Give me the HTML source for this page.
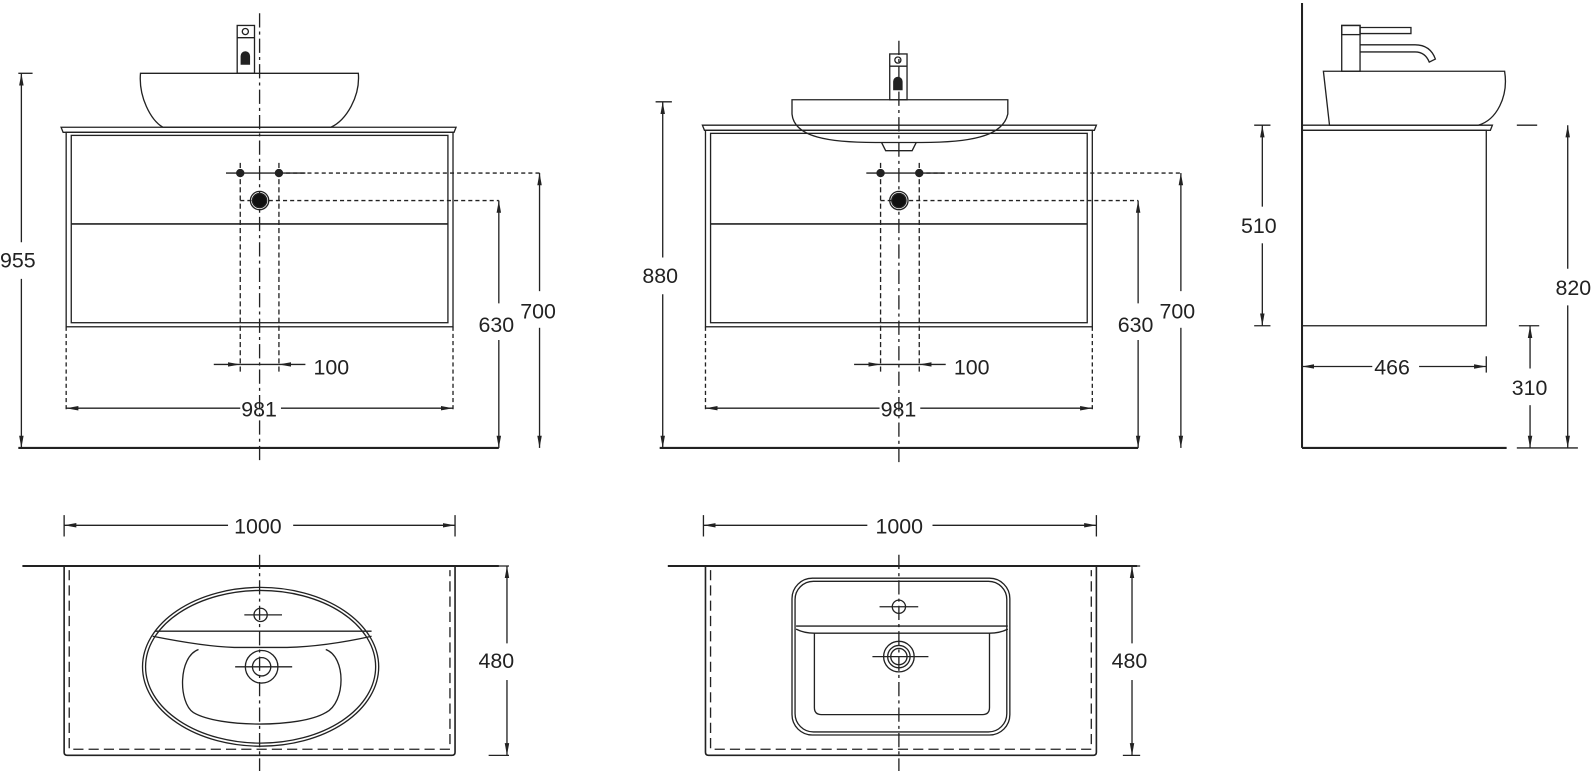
<!DOCTYPE html>
<html><head><meta charset="utf-8"><style>html,body{margin:0;padding:0;background:#fff}svg{display:block}text{font-family:"Liberation Sans",sans-serif;font-size:21px;fill:#222}</style></head>
<body>
<svg width="1594" height="771" viewBox="0 0 1594 771" xmlns="http://www.w3.org/2000/svg">
<defs>
<marker id="a" viewBox="0 0 12 6" refX="12" refY="3" markerWidth="12" markerHeight="6" orient="auto-start-reverse" markerUnits="userSpaceOnUse"><path d="M0,0.8L12,3L0,5.2z" fill="#222"/></marker>
</defs>
<g transform="scale(1.018)" fill="none" stroke="#222" stroke-width="1.3">
<!-- VIEW 1 -->
<line x1="255" y1="13" x2="255" y2="455" stroke-dasharray="14,4,3,4"/>
<rect x="233" y="25" width="17" height="47"/><circle cx="241" cy="31" r="3"/><line x1="233" y1="37" x2="250" y2="37"/>
<path d="M237,55 a4,4 0 0 1 8,0 v8 h-8z" fill="#222"/>
<path d="M138,72 H352 C354,95 340,118 325,125 H160 C148,118 136,95 138,72z"/>
<path d="M60,125 H448 L446,130 H62z"/>
<rect x="65" y="130" width="380" height="191"/>
<rect x="70" y="133" width="370" height="184"/>
<line x1="70" y1="220" x2="440" y2="220" stroke-width="1.6"/>
<line x1="222" y1="170" x2="300" y2="170"/>
<circle cx="236" cy="170" r="3.5" fill="#222"/><circle cx="274" cy="170" r="3.5" fill="#222"/>
<line x1="274" y1="170" x2="530" y2="170" stroke-dasharray="4,3"/>
<line x1="236" y1="197" x2="490" y2="197" stroke-dasharray="4,3"/>
<circle cx="255" cy="197" r="9"/><circle cx="255" cy="197" r="7" fill="#111"/>
<line x1="236" y1="160" x2="236" y2="368" stroke-dasharray="5,3"/>
<line x1="274" y1="160" x2="274" y2="368" stroke-dasharray="5,3"/>
<line x1="65" y1="321" x2="65" y2="405" stroke-dasharray="4,3"/>
<line x1="445" y1="321" x2="445" y2="405" stroke-dasharray="4,3"/>
<line x1="210" y1="358" x2="236" y2="358" marker-end="url(#a)"/>
<line x1="300" y1="358" x2="274" y2="358" marker-end="url(#a)"/>
<line x1="236" y1="358" x2="274" y2="358"/>
<line x1="65" y1="401" x2="236" y2="401" marker-start="url(#a)"/><line x1="276" y1="401" x2="445" y2="401" marker-end="url(#a)"/>
<line x1="18" y1="440" x2="490" y2="440" stroke-width="2"/>
<line x1="18" y1="72" x2="32" y2="72"/>
<line x1="21" y1="72" x2="21" y2="238" marker-start="url(#a)"/><line x1="21" y1="274" x2="21" y2="440" marker-end="url(#a)"/>
<line x1="490" y1="197" x2="490" y2="298" marker-start="url(#a)"/><line x1="490" y1="334" x2="490" y2="440" marker-end="url(#a)"/>
<line x1="530" y1="170" x2="530" y2="286" marker-start="url(#a)"/><line x1="530" y1="322" x2="530" y2="440" marker-end="url(#a)"/>
<!-- VIEW 2 -->
<line x1="883" y1="40" x2="883" y2="455" stroke-dasharray="14,4,3,4"/>
<rect x="874" y="53" width="17" height="45"/><circle cx="882" cy="59" r="3"/><line x1="874" y1="65" x2="891" y2="65"/>
<path d="M878,80 a4,4 0 0 1 8,0 v8 h-8z" fill="#222"/>
<path d="M778,98 H990 V112 C985,135 950,140 905,140 H860 C815,140 780,135 778,112z"/>
<path d="M690,123 H1077 L1075,128 H692z"/>
<path d="M866,140 L870,148 H896 L900,140"/>
<rect x="693" y="128" width="380" height="193"/>
<rect x="698" y="131" width="370" height="186"/>
<line x1="698" y1="220" x2="1068" y2="220" stroke-width="1.6"/>
<line x1="851" y1="170" x2="928" y2="170"/>
<circle cx="865" cy="170" r="3.5" fill="#222"/><circle cx="903" cy="170" r="3.5" fill="#222"/>
<line x1="903" y1="170" x2="1160" y2="170" stroke-dasharray="4,3"/>
<line x1="865" y1="197" x2="1118" y2="197" stroke-dasharray="4,3"/>
<circle cx="883" cy="197" r="9"/><circle cx="883" cy="197" r="7" fill="#111"/>
<line x1="865" y1="160" x2="865" y2="368" stroke-dasharray="5,3"/>
<line x1="903" y1="160" x2="903" y2="368" stroke-dasharray="5,3"/>
<line x1="693" y1="321" x2="693" y2="405" stroke-dasharray="4,3"/>
<line x1="1073" y1="321" x2="1073" y2="405" stroke-dasharray="4,3"/>
<line x1="839" y1="358" x2="865" y2="358" marker-end="url(#a)"/>
<line x1="929" y1="358" x2="903" y2="358" marker-end="url(#a)"/>
<line x1="865" y1="358" x2="903" y2="358"/>
<line x1="693" y1="401" x2="864" y2="401" marker-start="url(#a)"/><line x1="904" y1="401" x2="1073" y2="401" marker-end="url(#a)"/>
<line x1="648" y1="440" x2="1118" y2="440" stroke-width="2"/>
<line x1="644" y1="100" x2="660" y2="100"/>
<line x1="651" y1="100" x2="651" y2="253" marker-start="url(#a)"/><line x1="651" y1="289" x2="651" y2="440" marker-end="url(#a)"/>
<line x1="1118" y1="197" x2="1118" y2="298" marker-start="url(#a)"/><line x1="1118" y1="334" x2="1118" y2="440" marker-end="url(#a)"/>
<line x1="1160" y1="170" x2="1160" y2="286" marker-start="url(#a)"/><line x1="1160" y1="322" x2="1160" y2="440" marker-end="url(#a)"/>
<!-- VIEW 3 -->
<line x1="1279" y1="3" x2="1279" y2="440" stroke-width="2"/>
<line x1="1279" y1="440" x2="1480" y2="440" stroke-width="2"/>
<path d="M1300,70 H1478 C1482,95 1470,118 1452,123 H1306 Z"/>
<path d="M1279,123 H1466 L1464,128 H1279"/>
<rect x="1279" y="128" width="181" height="192"/>
<rect x="1318" y="25" width="18" height="45"/><rect x="1318" y="25" width="18" height="9"/>
<path d="M1336,27 H1386 V33 H1336"/>
<path d="M1336,44 H1390 Q1405,44 1410,58 L1404,61 Q1400,51 1390,51 H1336"/>
<line x1="1232" y1="123" x2="1248" y2="123"/><line x1="1232" y1="320" x2="1248" y2="320"/>
<line x1="1240" y1="123" x2="1240" y2="203" marker-start="url(#a)"/><line x1="1240" y1="239" x2="1240" y2="320" marker-end="url(#a)"/>
<line x1="1460" y1="350" x2="1460" y2="366"/>
<line x1="1279" y1="360" x2="1348" y2="360" marker-start="url(#a)"/><line x1="1394" y1="360" x2="1460" y2="360" marker-end="url(#a)"/>
<line x1="1492" y1="320" x2="1512" y2="320"/>
<line x1="1503" y1="320" x2="1503" y2="362" marker-start="url(#a)"/><line x1="1503" y1="398" x2="1503" y2="440" marker-end="url(#a)"/>
<line x1="1490" y1="123" x2="1510" y2="123"/><line x1="1490" y1="440" x2="1550" y2="440"/>
<line x1="1540" y1="123" x2="1540" y2="264" marker-start="url(#a)"/><line x1="1540" y1="300" x2="1540" y2="440" marker-end="url(#a)"/>
<!-- PLAN 1 -->
<line x1="63" y1="506" x2="63" y2="527"/><line x1="447" y1="506" x2="447" y2="527"/>
<line x1="63" y1="516" x2="224" y2="516" marker-start="url(#a)"/><line x1="288" y1="516" x2="447" y2="516" marker-end="url(#a)"/>
<line x1="22" y1="556" x2="490" y2="556" stroke-width="2"/>
<path d="M63,556 V739 Q63,742 66,742 H444 Q447,742 447,739 V556" stroke-width="1.6"/>
<path d="M68,560 V736 H442 V560" stroke-dasharray="10,5"/>
<line x1="255" y1="545" x2="255" y2="767" stroke-dasharray="14,4,3,4"/>
<ellipse cx="256" cy="655" rx="116" ry="78"/><ellipse cx="256" cy="655" rx="113" ry="75"/>
<path d="M152,620 H365"/>
<path d="M150,625 Q200,635 230,636 H282 Q320,635 365,625"/>
<path d="M195,638 C175,645 175,690 190,700 C215,715 295,715 320,700 C340,690 340,645 320,638"/>
<circle cx="256" cy="604" r="6.5"/><line x1="240" y1="604" x2="277" y2="604"/>
<circle cx="257" cy="655" r="16"/><circle cx="257" cy="655" r="9"/><line x1="231" y1="655" x2="287" y2="655"/>
<line x1="480" y1="556" x2="500" y2="556"/><line x1="480" y1="742" x2="500" y2="742"/>
<line x1="498" y1="556" x2="498" y2="632" marker-start="url(#a)"/><line x1="498" y1="668" x2="498" y2="742" marker-end="url(#a)"/>
<!-- PLAN 2 -->
<line x1="691" y1="506" x2="691" y2="527"/><line x1="1077" y1="506" x2="1077" y2="527"/>
<line x1="691" y1="516" x2="852" y2="516" marker-start="url(#a)"/><line x1="916" y1="516" x2="1077" y2="516" marker-end="url(#a)"/>
<line x1="656" y1="556" x2="1117" y2="556" stroke-width="2"/>
<path d="M693,556 V739 Q693,742 696,742 H1074 Q1077,742 1077,739 V556" stroke-width="1.6"/>
<path d="M698,560 V736 H1072 V560" stroke-dasharray="10,5"/>
<line x1="883" y1="545" x2="883" y2="767" stroke-dasharray="14,4,3,4"/>
<rect x="778" y="568" width="214" height="154" rx="20"/><rect x="781" y="571" width="208" height="148" rx="18"/>
<path d="M782,615 H990"/><path d="M782,618 Q790,622 800,622 H972 Q982,622 990,618"/>
<path d="M800,622 V695 Q800,702 807,702 H965 Q972,702 972,695 V622"/>
<circle cx="883" cy="596" r="6.5"/><line x1="864" y1="596" x2="902" y2="596"/>
<circle cx="883" cy="645" r="15"/><circle cx="883" cy="645" r="11"/><circle cx="883" cy="645" r="8"/><line x1="857" y1="645" x2="912" y2="645"/>
<line x1="1103" y1="556" x2="1120" y2="556"/><line x1="1103" y1="742" x2="1120" y2="742"/>
<line x1="1112" y1="556" x2="1112" y2="632" marker-start="url(#a)"/><line x1="1112" y1="668" x2="1112" y2="742" marker-end="url(#a)"/>
</g>
<g transform="scale(1.018)">
<text x="0" y="263">955</text>
<text x="470" y="326">630</text><text x="511" y="313">700</text>
<text x="308" y="368">100</text><text x="237" y="409">981</text>
<text x="631" y="278">880</text>
<text x="1098" y="326">630</text><text x="1139" y="313">700</text>
<text x="937" y="368">100</text><text x="865" y="409">981</text>
<text x="1219" y="229">510</text><text x="1350" y="368">466</text>
<text x="1485" y="388">310</text><text x="1528" y="290">820</text>
<text x="230" y="524">1000</text><text x="860" y="524">1000</text>
<text x="470" y="656">480</text><text x="1092" y="656">480</text>
</g>
</svg>
</body></html>
